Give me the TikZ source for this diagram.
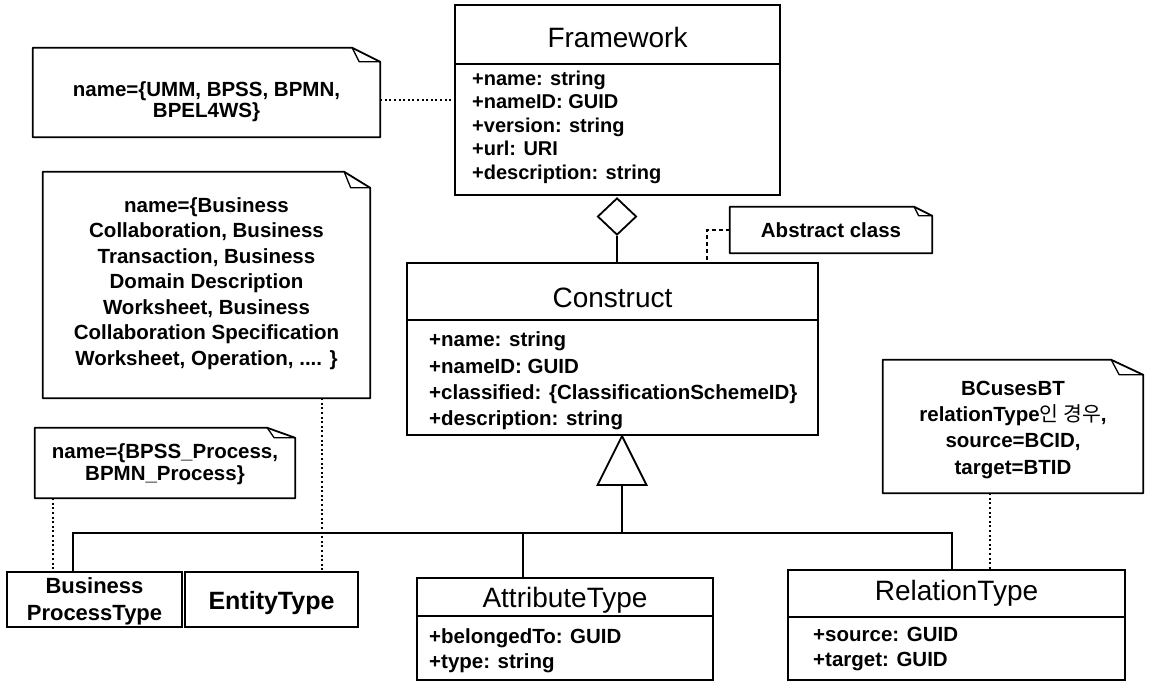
\documentclass[tikz,border=0pt]{standalone}
\usepackage{fontspec}
\setmainfont{Liberation Sans}
\newfontfamily\krfont{Noto Sans CJK KR}
\usetikzlibrary{shapes.geometric}
\newcommand\notedraw[3]{%
  \draw[noteline] (#1.north west) -- ([xshift=-#2pt]#1.north east) -- ([yshift=-#3pt]#1.north east) -- (#1.south east) -- (#1.south west) -- cycle;
  \draw[foldline] ([xshift=-#2pt]#1.north east) -- ([xshift={-0.75*#2pt}, yshift=-#3pt]#1.north east) -- ([yshift=-#3pt]#1.north east);}
\begin{document}
\begin{tikzpicture}[x=1pt,y=-1pt,
  line/.style={draw=black, line width=1.8pt},
  box/.style={draw=black, line width=1.8pt, inner sep=0pt, fill=white},
  ghost/.style={inner sep=0pt},
  noteline/.style={draw=black, line width=1.8pt, line join=round, fill=white},
  foldline/.style={draw=black, line width=1.3pt, line join=round},
  dotline/.style={draw=black, line width=2pt, dash pattern=on 2pt off 2.6pt},
  dashline/.style={draw=black, line width=1.8pt, dash pattern=on 4pt off 3pt},
  ctitle/.style={inner sep=0pt, font=\fontsize{28}{32}\selectfont, text height=20pt, text depth=0pt},
  attrs/.style={inner sep=0pt, anchor=west, align=left, font=\bfseries\fontsize{20.5}{#1}\selectfont},
  notetext/.style={inner sep=0pt, align=center, font=\bfseries\fontsize{20.5}{#1}\selectfont},
]
\useasboundingbox (0,0) rectangle (1151,683);

% ---------- Framework ----------
\node[box, minimum width=325pt, minimum height=190pt] (fw) at (617.5,100) {};
\node[ctitle] (fwt) at (617.5,37) {Framework};
\draw[line] (fw.west |- 0,64) -- (fw.east |- 0,64);
\node[attrs=23, font=\bfseries\fontsize{20}{23.5}\selectfont] (fwa) at (472,127)
  {+name: string\\+nameID: GUID\\+version: string\\+url: URI\\+description: string};

% ---------- aggregation diamond ----------
\node[diamond, draw=black, line width=1.8pt, inner sep=0pt, minimum width=39pt, minimum height=37pt, fill=white] (dia) at (617,216.5) {};

% ---------- Construct ----------
\node[box, minimum width=411pt, minimum height=172pt] (cons) at (612.5,349) {};
\node[ctitle] (const) at (612.5,297) {Construct};
\draw[line] (cons.west |- 0,320) -- (cons.east |- 0,320);
\node[attrs=26.2] (consa) at (429,381)
  {+name: string\\+nameID: GUID\\+classified: \{ClassificationSchemeID\}\\+description: string};
\draw[line] (dia.south) -- (cons.north -| dia.south);

% ---------- subclasses ----------
\node[box, minimum width=175pt, minimum height=55pt] (bpt) at (94.5,599.5) {};
\node[inner sep=0pt, align=center, font=\bfseries\fontsize{22}{27}\selectfont] (bptt) at (94.5,601) {Business\\ProcessType};

\node[box, minimum width=173pt, minimum height=55pt] (et) at (271.5,599.5) {};
\node[ctitle, font=\bfseries\fontsize{25}{30}\selectfont, text height=18pt] (ett) at (271.5,600) {EntityType};

\node[box, minimum width=296pt, minimum height=102pt] (att) at (565,629) {};
\node[ctitle] (attt) at (565,597) {AttributeType};
\draw[line] (att.west |- 0,616) -- (att.east |- 0,616);
\node[attrs=25] (atta) at (429,650.5) {+belongedTo: GUID\\+type: string};

\node[box, minimum width=337pt, minimum height=110pt] (rel) at (956.5,625) {};
\node[ctitle] (relt) at (956.5,590) {RelationType};
\draw[line] (rel.west |- 0,617) -- (rel.east |- 0,617);
\node[attrs=25] (rela) at (813,649.5) {+source: GUID\\+target: GUID};

% ---------- generalization ----------
\coordinate (triapex) at (622,436);
\coordinate (tribase) at (622,485);
\coordinate (bus) at (0,533);
\coordinate (bx1) at (73,0);
\coordinate (bx2) at (952,0);
\coordinate (bx3) at (523,0);
\draw[line, fill=white, line join=miter] (triapex) -- ([xshift=-24.5pt]tribase) -- ([xshift=24.5pt]tribase) -- cycle;
\draw[line] (tribase) -- (tribase |- bus);
\draw[line] (bpt.north -| bx1) -- (bx1 |- bus) -- (bx2 |- bus) -- (rel.north -| bx2);
\draw[line] (bx3 |- bus) -- (att.north -| bx3);

% ---------- notes ----------
\node[ghost, minimum width=347pt, minimum height=89pt] (n1) at (206.5,92.5) {};
\notedraw{n1}{28}{14}
\node[notetext=21] (n1t) at (206.5,102) {name=\{UMM, BPSS, BPMN,\\BPEL4WS\}};
\coordinate (n1r) at ([yshift=-7pt]n1.east);
\draw[dotline] (n1r) -- (n1r -| fw.west);

\node[ghost, minimum width=327pt, minimum height=226pt] (n2) at (206.5,285) {};
\notedraw{n2}{26}{16}
\node[notetext=25.5] (n2t) at (206.5,283.5) {name=\{Business\\Collaboration, Business\\Transaction, Business\\Domain Description\\Worksheet, Business\\Collaboration Specification\\Worksheet, Operation, .... \}};
\coordinate (ex) at (322,0);
\draw[dotline] (n2.south -| ex) -- (et.north -| ex);

\node[ghost, minimum width=260pt, minimum height=70pt] (n3) at (165,463) {};
\notedraw{n3}{28}{10}
\node[notetext=22] (n3t) at (165,464) {name=\{BPSS\_Process,\\BPMN\_Process\}};
\coordinate (bpx) at (53,0);
\draw[dotline] (n3.south -| bpx) -- (bpt.north -| bpx);

\node[ghost, minimum width=202pt, minimum height=46pt] (n4) at (831,230) {};
\notedraw{n4}{18}{9}
\node[notetext=24, text height=14.7pt, text depth=0pt] (n4t) at (831,230) {Abstract class};
\coordinate (abscol) at (707,0);
\draw[dashline] (n4.west) -| (cons.north -| abscol);

\node[ghost, minimum width=260pt, minimum height=133pt] (n5) at (1013,426.5) {};
\notedraw{n5}{32}{15}
\node[notetext=26.3] (n5t) at (1013,429.75) {BCusesBT\\relationType{\krfont\mdseries 인 경우},\\source=BCID,\\target=BTID};
\coordinate (rx) at (990,0);
\draw[dotline] (n5.south -| rx) -- (rel.north -| rx);
\end{tikzpicture}
\end{document}
